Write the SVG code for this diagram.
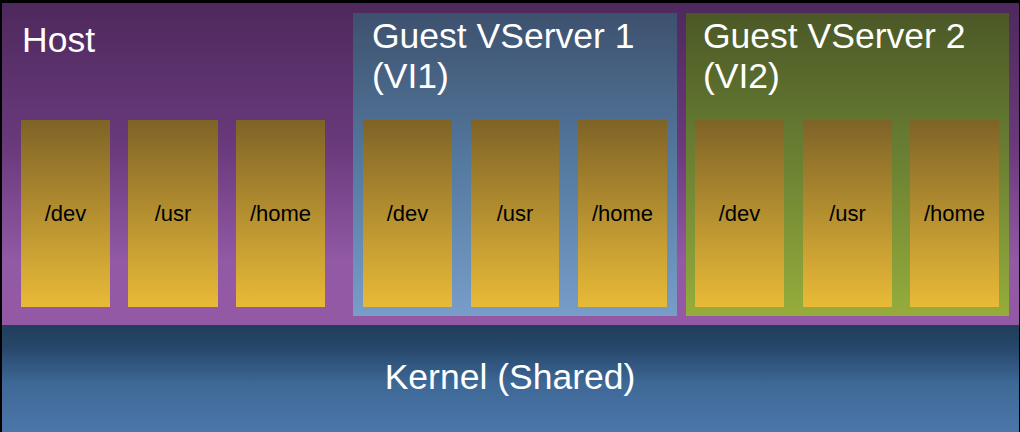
<svg xmlns="http://www.w3.org/2000/svg" width="1020" height="432" viewBox="0 0 1020 432">
  <defs>
    <linearGradient id="gHost" x1="0" y1="0" x2="0" y2="1">
      <stop offset="0" stop-color="#4e295d"/>
      <stop offset="0.45" stop-color="#6a3a7c"/>
      <stop offset="0.8" stop-color="#9259a5"/>
      <stop offset="1" stop-color="#9459a5"/>
    </linearGradient>
    <linearGradient id="gG1" x1="0" y1="0" x2="0" y2="1">
      <stop offset="0" stop-color="#3d516e"/>
      <stop offset="0.5" stop-color="#557aa0"/>
      <stop offset="1" stop-color="#789dc9"/>
    </linearGradient>
    <linearGradient id="gG2" x1="0" y1="0" x2="0" y2="1">
      <stop offset="0" stop-color="#4b5827"/>
      <stop offset="0.5" stop-color="#6c8233"/>
      <stop offset="1" stop-color="#96ad3c"/>
    </linearGradient>
    <linearGradient id="gK" x1="0" y1="0" x2="0" y2="1">
      <stop offset="0" stop-color="#213e5b"/>
      <stop offset="0.2" stop-color="#264669"/>
      <stop offset="0.55" stop-color="#3e6896"/>
      <stop offset="1" stop-color="#4b76a9"/>
    </linearGradient>
    <linearGradient id="gF" x1="0" y1="0" x2="0" y2="1">
      <stop offset="0" stop-color="#7e6327"/>
      <stop offset="0.5" stop-color="#b48f30"/>
      <stop offset="1" stop-color="#e9ba37"/>
    </linearGradient>
  </defs>
  <style>
    .big { font-family: "Liberation Sans", Arial, sans-serif; font-size: 35.5px; fill: #ffffff; }
    .lbl { font-family: "Liberation Sans", Arial, sans-serif; font-size: 22px; fill: #000000; text-anchor: middle; }
    .folder { fill: url(#gF); }
  </style>
  <rect x="0" y="0" width="1020" height="432" fill="#000000"/>
  <g id="host">
    <rect x="2" y="3" width="1017" height="322" fill="url(#gHost)"/>
    <text class="big" x="22" y="52">Host</text>
    <g id="host-dev"><rect class="folder" x="21" y="120" width="89" height="187"/><text class="lbl" x="65.5" y="221">/dev</text></g>
    <g id="host-usr"><rect class="folder" x="128" y="120" width="90" height="187"/><text class="lbl" x="173" y="221">/usr</text></g>
    <g id="host-home"><rect class="folder" x="236" y="120" width="89" height="187"/><text class="lbl" x="280.5" y="221">/home</text></g>
  </g>
  <g id="guest1">
    <rect x="353" y="13" width="324" height="303" fill="url(#gG1)"/>
    <text class="big" x="372" y="48">Guest VServer 1</text>
    <text class="big" x="372" y="88">(VI1)</text>
    <g id="g1-dev"><rect class="folder" x="363" y="120" width="89" height="187"/><text class="lbl" x="407.5" y="221">/dev</text></g>
    <g id="g1-usr"><rect class="folder" x="471" y="120" width="88" height="187"/><text class="lbl" x="515" y="221">/usr</text></g>
    <g id="g1-home"><rect class="folder" x="578" y="120" width="89" height="187"/><text class="lbl" x="622.5" y="221">/home</text></g>
  </g>
  <g id="guest2">
    <rect x="686" y="13" width="323" height="303" fill="url(#gG2)"/>
    <text class="big" x="703" y="48">Guest VServer 2</text>
    <text class="big" x="703" y="88">(VI2)</text>
    <g id="g2-dev"><rect class="folder" x="695" y="120" width="89" height="187"/><text class="lbl" x="739.5" y="221">/dev</text></g>
    <g id="g2-usr"><rect class="folder" x="803" y="120" width="89" height="187"/><text class="lbl" x="847.5" y="221">/usr</text></g>
    <g id="g2-home"><rect class="folder" x="910" y="120" width="89" height="187"/><text class="lbl" x="954.5" y="221">/home</text></g>
  </g>
  <g id="kernel">
    <rect x="2" y="325" width="1017" height="107" fill="url(#gK)"/>
    <text class="big" x="510" y="389" text-anchor="middle">Kernel (Shared)</text>
  </g>
  <g id="connectors"/>
</svg>
